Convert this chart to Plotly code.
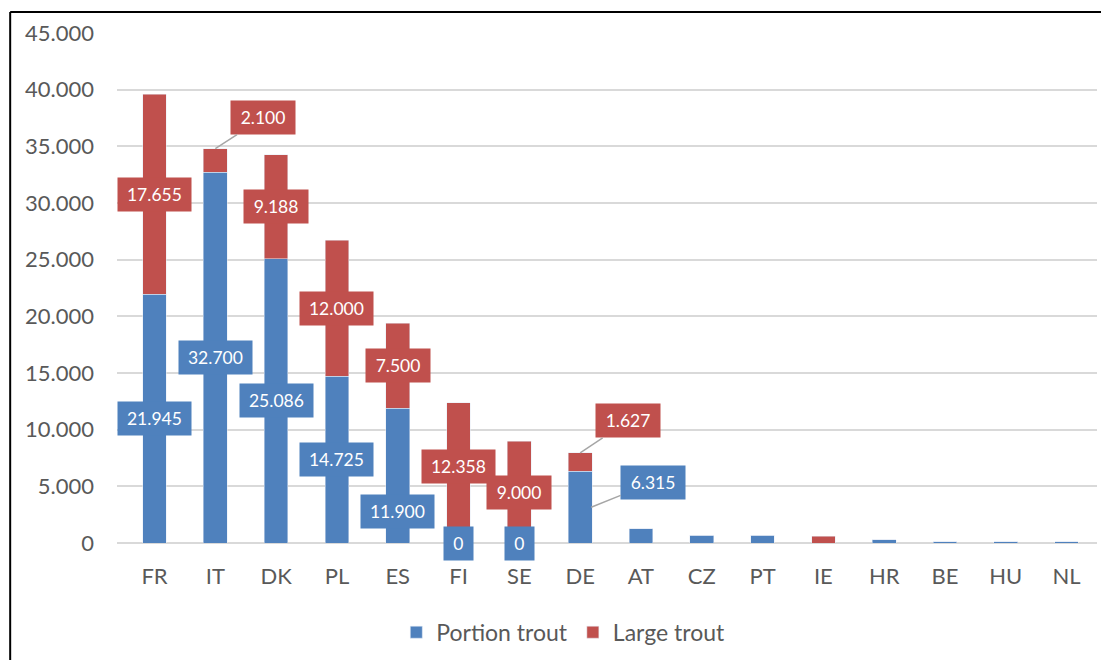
import plotly.graph_objects as go

countries = ["FR", "IT", "DK", "PL", "ES", "FI", "SE", "DE",
             "AT", "CZ", "PT", "IE", "HR", "BE", "HU", "NL"]
portion = [21945, 32700, 25086, 14725, 11900, 0, 0, 6315,
           1250, 700, 700, 0, 300, 100, 100, 100]
large = [17655, 2100, 9188, 12000, 7500, 12358, 9000, 1627,
         0, 0, 0, 600, 0, 0, 0, 0]
n_labelled = 8  # only the first eight countries carry data labels

blue = "#4F81BD"
red = "#C0504D"
font = "Lato"

fig = go.Figure()
fig.add_trace(go.Bar(x=countries, y=portion, name="Portion trout", marker_color=blue))
fig.add_trace(go.Bar(x=countries, y=large, name="Large trout", marker_color=red))


def fmt(v):
    return f"{v:,}".replace(",", ".")


# label tweaks: (series, country) -> extra annotation args
special = {
    ("large", "IT"): dict(at="top", showarrow=True, ax=48, ay=-31),
    ("large", "DE"): dict(at="top", showarrow=True, ax=48, ay=-32),
    ("portion", "DE"): dict(showarrow=True, ax=62, ay=-25, xshift=11),
    ("portion", "ES"): dict(yshift=-36),
    ("large", "FI"): dict(yshift=6),
}

for i in range(n_labelled):
    c = countries[i]
    for series, vals, base, col in [("portion", portion, 0, blue),
                                    ("large", large, portion[i], red)]:
        v = vals[i]
        opts = dict(special.get((series, c), {}))
        at = opts.pop("at", "mid")
        y = base + v if at == "top" else base + v / 2
        arrow = opts.pop("showarrow", False)
        txt = fmt(v)
        fig.add_annotation(
            x=c, y=y, text=txt,
            showarrow=arrow, arrowhead=0, arrowwidth=1.5, arrowcolor="#A6A6A6",
            bgcolor=col, borderpad=4, width=8.8 * len(txt) + 12, height=25,
            font=dict(family=font, size=17.5, color="white"),
            **opts,
        )

# outer frame (top and left edges visible)
fig.add_shape(type="line", xref="paper", yref="paper",
              x0=-0.109, x1=1.02, y0=1.041, y1=1.041,
              line=dict(color="black", width=2))
fig.add_shape(type="line", xref="paper", yref="paper",
              x0=-0.109, x1=-0.109, y0=1.041, y1=-0.3,
              line=dict(color="black", width=2))

# page body has an 8px margin, so the figure is 8px smaller than the window
fig.update_layout(
    width=1101, height=652,
    margin=dict(l=109, r=12, t=25, b=117, autoexpand=False),
    barmode="stack", bargap=0.61,
    plot_bgcolor="white", paper_bgcolor="white",
    separators=",.",
    font=dict(family=font, size=22, color="#595959"),
    legend=dict(orientation="h", x=0.285, xanchor="left", y=-0.175, yanchor="middle",
                font=dict(size=23), traceorder="normal"),
    xaxis=dict(showgrid=False, showline=False, ticks="", ticklabelstandoff=18,
               automargin=False),
    yaxis=dict(range=[0, 45000], dtick=5000, tickformat=",d",
               gridcolor="#D9D9D9", gridwidth=1.5,
               zeroline=True, zerolinecolor="#D9D9D9", zerolinewidth=2,
               ticks="", ticklabelstandoff=22, automargin=False),
)

fig.write_html("out.html")
